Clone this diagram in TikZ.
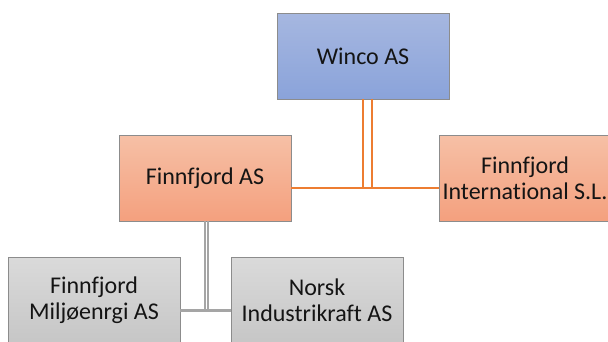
\documentclass[tikz,border=0pt]{standalone}
\usepackage{fontspec}
\setmainfont{Carlito}[Ligatures={NoCommon}]
\usetikzlibrary{positioning}

\definecolor{wincotop}{HTML}{A6B7E0}
\definecolor{wincobot}{HTML}{8AA3DA}
\definecolor{orgtop}{HTML}{F6C0A6}
\definecolor{orgbot}{HTML}{F4A07E}
\definecolor{greytop}{HTML}{DADADA}
\definecolor{greybot}{HTML}{C6C6C6}
\definecolor{orangeline}{HTML}{ED7D31}
\definecolor{greyline}{HTML}{A5A5A5}
\definecolor{edge}{HTML}{8C8C8C}

\tikzset{
  orgbox/.style={rectangle,draw=edge,line width=0.9pt,minimum width=172pt,minimum height=86pt,
    align=center,text=black!92,font=\fontsize{24}{26}\selectfont},
  bluebox/.style={orgbox,top color=wincotop,bottom color=wincobot},
  orangebox/.style={orgbox,top color=orgtop,bottom color=orgbot},
  greybox/.style={orgbox,top color=greytop,bottom color=greybot},
  orangelink/.style={orangeline,line width=2.2pt},
  greylink/.style={greyline,line width=2.2pt}
}

\begin{document}
\begin{tikzpicture}[x=1pt,y=-1pt]
\clip (0,0) rectangle (608,341);
\fill[white] (0,0) rectangle (608,341);

\node[bluebox] (winco) at (363,56) {Winco AS};
\node[orangebox] (fas) at (205,178) {Finnfjord AS};
\node[orangebox] (intl) at (525,178) {Finnfjord\\International S.L.};
\node[greybox] (milj) at (94,300.5) {Finnfjord\\Milj\o enrgi AS};
\node[greybox] (norsk) at (317,300.5) {Norsk\\Industrikraft AS};

\draw[orangelink] ([xshift=9]winco.south) |- ([yshift=-10]fas.east);
\draw[orangelink] (winco.south) |- ([yshift=-10]intl.west);

\draw[greylink] ([xshift=3]fas.south) |- ([yshift=-10]milj.east);
\draw[greylink] (fas.south) |- ([yshift=-10]norsk.west);
\end{tikzpicture}
\end{document}
